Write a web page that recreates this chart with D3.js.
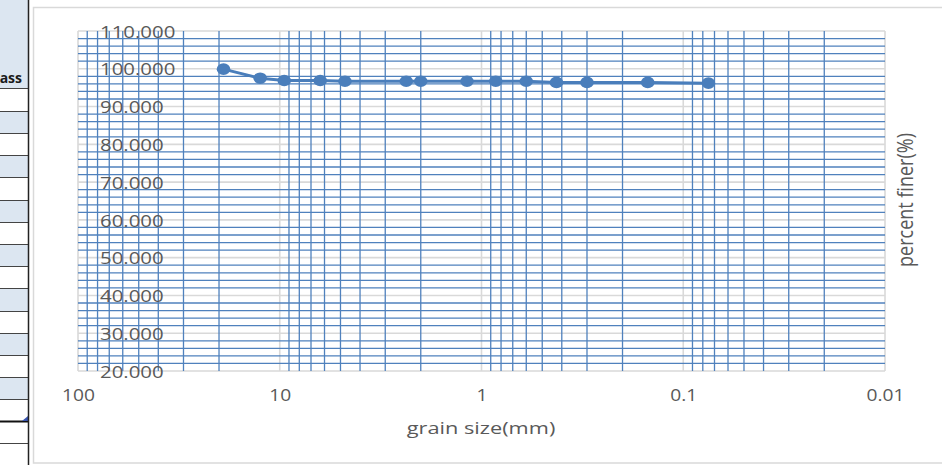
<!DOCTYPE html>
<html>
<head>
<meta charset="utf-8">
<script src="https://cdn.jsdelivr.net/npm/d3@7"></script>
<style>
  body { margin: 0; background: #fff; }
  svg { display: block; font-family: "Open Sans", "Liberation Sans", sans-serif; }
</style>
</head>
<body>
<script>
// sieve analysis - grain size (mm) vs cumulative percent finer
var sieveSize = [19, 12.5, 9.5, 6.3, 4.75, 2.36, 2.0, 1.18, 0.85, 0.6, 0.425, 0.3, 0.15, 0.075];
var percentFiner = [99.9, 97.5, 96.9, 96.9, 96.7, 96.7, 96.7, 96.7, 96.7, 96.7, 96.4, 96.4, 96.4, 96.2];

var xTickValues = [100, 10, 1, 0.1, 0.01];
var xTickLabels = ["100", "10", "1", "0.1", "0.01"];
var yTickValues = [20, 30, 40, 50, 60, 70, 80, 90, 100, 110];
var yTickLabels = ["20.000", "30.000", "40.000", "50.000", "60.000", "70.000", "80.000", "90.000", "100.000", "110.000"];

var svgWidth = 942, svgHeight = 465;
var plot = { left: 78, right: 885, top: 31, bottom: 371 };
var stretch = 1.2; // text in the picture is a bit wide

var svg = d3.select("body").append("svg")
    .attr("width", svgWidth)
    .attr("height", svgHeight);

// ---- bit of the spreadsheet showing at the left ----
var sheet = svg.append("g");
sheet.append("rect").attr("x", 0).attr("y", 0).attr("width", 28).attr("height", 88).attr("fill", "#dce6f1");
var rowEdges = [88, 111, 133, 155, 177, 200, 222, 244, 266, 288, 311, 333, 355, 377, 399, 421, 443, 465];
rowEdges.slice(0, -1).forEach(function(top, i) {
  var shaded = i % 2 === 1 && top < 399;
  sheet.append("rect")
      .attr("x", 0).attr("y", top)
      .attr("width", 28).attr("height", rowEdges[i + 1] - top)
      .attr("fill", shaded ? "#dce6f1" : "#fff");
});
rowEdges.slice(0, -1).forEach(function(top) {
  sheet.append("line")
      .attr("x1", 0).attr("x2", 28)
      .attr("y1", top + 0.5).attr("y2", top + 0.5)
      .attr("stroke", top === 421 ? "#111" : "#444")
      .attr("stroke-width", top === 421 ? 2 : 1);
});
sheet.append("polygon")
    .attr("points", "22,421 28,416 28,421")
    .attr("fill", "#3a55b0");
sheet.append("line")
    .attr("x1", 28.5).attr("x2", 28.5).attr("y1", 0).attr("y2", svgHeight)
    .attr("stroke", "#222").attr("stroke-width", 1.5);
sheet.append("text")
    .attr("x", 22).attr("y", 83)
    .attr("text-anchor", "end")
    .attr("font-size", 14).attr("font-weight", "bold")
    .attr("fill", "#1a1a1a")
    .text("ass");

// ---- chart area frame ----
svg.append("rect")
    .attr("x", 33.5).attr("y", 7.5)
    .attr("width", 940).attr("height", 455.5)
    .attr("fill", "#fff")
    .attr("stroke", "#d9d9d9").attr("stroke-width", 1.5);

// scales
var xScale = d3.scaleLog()
    .domain([100, 0.01])
    .range([plot.left, plot.right]);

var yScale = d3.scaleLinear()
    .domain([20, 110])
    .range([plot.bottom, plot.top]);

var grid = svg.append("g");

// major gridlines (grey)
grid.selectAll(".vmaj")
    .data(xTickValues)
    .enter().append("line")
    .attr("x1", d => xScale(d)).attr("x2", d => xScale(d))
    .attr("y1", plot.top).attr("y2", plot.bottom)
    .attr("stroke", "#d9d9d9").attr("stroke-width", 1.6);

grid.selectAll(".hmaj")
    .data(yTickValues)
    .enter().append("line")
    .attr("x1", plot.left).attr("x2", plot.right)
    .attr("y1", d => yScale(d)).attr("y2", d => yScale(d))
    .attr("stroke", "#d9d9d9").attr("stroke-width", 1.6);

// minor gridlines (blue)
var xMinor = xScale.ticks().filter(function(d) {
  var m = d / Math.pow(10, Math.floor(Math.log10(d) + 1e-9));
  return Math.abs(m - 1) > 1e-6;
});
var yMinor = yScale.ticks(45).filter(d => d % 10 !== 0);

grid.selectAll(".hmin")
    .data(yMinor)
    .enter().append("line")
    .attr("x1", plot.left).attr("x2", plot.right)
    .attr("y1", d => yScale(d)).attr("y2", d => yScale(d))
    .attr("stroke", "#4f81bd").attr("stroke-width", 1.3);

grid.selectAll(".vmin")
    .data(xMinor)
    .enter().append("line")
    .attr("x1", d => xScale(d)).attr("x2", d => xScale(d))
    .attr("y1", plot.top).attr("y2", plot.bottom)
    .attr("stroke", "#4f81bd").attr("stroke-width", 1.3);

// x axis labels
var xAxis = d3.axisBottom(xScale)
    .tickValues(xTickValues)
    .tickFormat((d, i) => xTickLabels[i])
    .tickSize(0)
    .tickPadding(19);

var xAxisG = svg.append("g")
    .attr("transform", `translate(0, ${plot.bottom})`)
    .call(xAxis);
xAxisG.select(".domain").remove();
xAxisG.selectAll("text")
    .attr("font-family", "Open Sans")
    .attr("font-size", 16)
    .attr("fill", "#595959")
    .attr("transform", `scale(${stretch},1)`);

// y axis labels sit inside the plot, left aligned
var yAxis = d3.axisRight(yScale)
    .tickValues(yTickValues)
    .tickFormat((d, i) => yTickLabels[i])
    .tickSize(0)
    .tickPadding(0);

var yAxisG = svg.append("g")
    .attr("transform", "translate(100, 0)")
    .call(yAxis);
yAxisG.select(".domain").remove();
yAxisG.selectAll("text")
    .attr("font-family", "Open Sans")
    .attr("font-size", 17)
    .attr("fill", "#595959")
    .attr("dy", "0.36em")
    .attr("transform", `scale(${stretch},1)`);

// data line and markers
var line = d3.line()
    .x((d, i) => xScale(sieveSize[i]))
    .y(d => yScale(d));

svg.append("path")
    .datum(percentFiner)
    .attr("d", line)
    .attr("fill", "none")
    .attr("stroke", "#4a7ebb")
    .attr("stroke-width", 3);

svg.selectAll(".pt")
    .data(percentFiner)
    .enter().append("ellipse")
    .attr("cx", (d, i) => xScale(sieveSize[i]))
    .attr("cy", d => yScale(d))
    .attr("rx", 6.8).attr("ry", 5.8)
    .attr("fill", "#4a7ebb");

// axis titles
svg.append("text")
    .attr("transform", `translate(481, 434) scale(1.28,1)`)
    .attr("text-anchor", "middle")
    .attr("font-size", 17)
    .attr("fill", "#595959")
    .text("grain size(mm)");

svg.append("text")
    .attr("transform", `translate(913, 200) scale(${stretch},1) rotate(-90)`)
    .attr("text-anchor", "middle")
    .attr("font-size", 18)
    .attr("fill", "#595959")
    .text("percent finer(%)");
</script>
</body>
</html>
